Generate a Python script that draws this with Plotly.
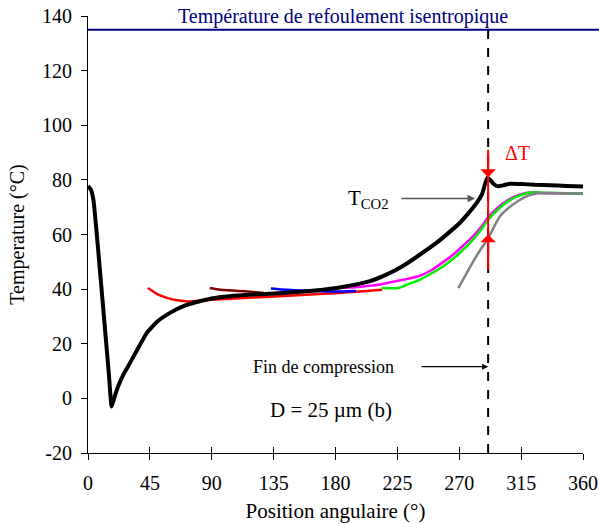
import plotly.graph_objects as go

# ---- data ----
black_x = [0, 2, 4, 6.3, 9, 12, 15, 17.2, 19, 22, 26, 30.5, 36, 42.7, 50, 59.6, 69, 79, 90, 103,
           120, 145, 165, 185, 205, 217, 229, 241, 253.6, 262, 270.5, 277, 282.7, 286.5, 290.4,
           292.5, 295, 298, 302, 307, 315, 325, 336, 348, 360]
black_y = [77.7, 76.5, 72.5, 60.6, 45, 27.5, 10, -3, 0, 4.5, 9, 12.9, 18, 23.9, 28, 31.3, 33.7,
           35.3, 36.6, 37.4, 38.0, 38.7, 39.5, 40.8, 42.9, 45.3, 48.5, 52.5, 57, 60.5, 64.3, 68,
           71.6, 74.7, 80.8, 80, 78.5, 77.7, 78.0, 78.6, 78.5, 78.2, 78.0, 77.8, 77.6]

red_x = [43.6, 50, 58, 65, 72.7, 85, 100, 120, 145.5, 165, 185, 200, 214]
red_y = [40.4, 38.3, 36.7, 35.9, 35.5, 35.9, 36.4, 36.9, 37.6, 38.1, 38.7, 39.2, 39.8]

maroon_x = [88.5, 95, 105, 114, 128]
maroon_y = [40.4, 39.9, 39.5, 39.2, 38.6]

blue_x = [133, 140, 150, 165, 180, 195]
blue_y = [40.2, 39.9, 39.6, 39.3, 39.1, 39.3]

magenta_x = [178, 190, 200, 210, 220, 230, 241.5, 250, 258, 266, 273, 280, 286, 291, 299, 306,
             314, 322, 330, 360]
magenta_y = [40.4, 40.6, 41, 41.5, 42.5, 43.5, 44.9, 47, 49.8, 52.8, 56, 59.3, 62.8, 66.3, 70.3,
             72.8, 74.6, 75.5, 75.2, 75]

green_x = [213.6, 225.7, 233, 241.5, 250, 258.4, 266, 273, 279, 285.1, 291.2, 299.6, 306, 314,
           322, 330, 360]
green_y = [40.4, 40.4, 41.8, 43.5, 45.8, 48.4, 51.3, 54.5, 57.6, 61.2, 65.5, 69.8, 72.3, 74.3,
           75.4, 75.3, 75]

gray_x = [269.3, 275, 280, 285.5, 291.2, 295.5, 299.6, 306, 312, 318, 326, 335, 360]
gray_y = [40.4, 45.5, 50, 54.5, 58.8, 63, 66.7, 69.8, 72, 73.8, 75, 75.2, 75]

isentropic_T = 135
end_compression = 291
dT_top, dT_bottom = 81, 60

x_ticks = [0, 45, 90, 135, 180, 225, 270, 315, 360]
y_ticks = [-20, 0, 20, 40, 60, 80, 100, 120, 140]

FONT = "Liberation Serif"

fig = go.Figure()

def add(x, y, color, width, smooth=0.6):
    fig.add_trace(go.Scatter(x=x, y=y, mode="lines",
                             line=dict(color=color, width=width, shape="spline", smoothing=smooth),
                             showlegend=False, hoverinfo="skip"))

add(red_x, red_y, "#ff0000", 2.5)
add(maroon_x, maroon_y, "#800000", 2.5)
add(blue_x, blue_y, "#0000ff", 2.5)
add(magenta_x, magenta_y, "#ff00ff", 2.5)
add(green_x, green_y, "#00ee00", 2.5)
add(gray_x, gray_y, "#808080", 2.5)
add(black_x, black_y, "#000000", 4, 0.4)

# dummy trace for inner ticks axis
fig.add_trace(go.Scatter(x=[0], y=[-20], xaxis="x2", mode="markers", marker=dict(opacity=0),
                         showlegend=False, hoverinfo="skip"))

# isentropic line
fig.add_shape(type="line", xref="paper", yref="y", x0=0, x1=1.04, y0=isentropic_T, y1=isentropic_T,
              line=dict(color="#000080", width=2))
# end of compression dashed line
fig.add_shape(type="line", xref="x", yref="y", x0=end_compression, x1=end_compression,
              y0=-20, y1=isentropic_T, line=dict(color="black", width=2, dash="dash"))
# red delta T line
fig.add_shape(type="line", xref="x", yref="y", x0=end_compression, x1=end_compression,
              y0=91, y1=47, line=dict(color="#ff0000", width=2))

ann = []
ann.append(dict(x=end_compression, y=dT_top, ax=end_compression, ay=90, xref="x", yref="y",
                axref="x", ayref="y", showarrow=True, arrowhead=1, arrowsize=1.3, arrowwidth=2,
                arrowcolor="#ff0000", text=""))
ann.append(dict(x=end_compression, y=dT_bottom, ax=end_compression, ay=48, xref="x", yref="y",
                axref="x", ayref="y", showarrow=True, arrowhead=1, arrowsize=1.3, arrowwidth=2,
                arrowcolor="#ff0000", text=""))
ann.append(dict(x=312, y=90, xref="x", yref="y", text="ΔT", showarrow=False,
                font=dict(family=FONT, size=20, color="#ff0000")))
# T_CO2 arrow
ann.append(dict(x=281.5, y=73.2, ax=226.9, ay=73.2, xref="x", yref="y", axref="x", ayref="y",
                showarrow=True, arrowhead=2, arrowsize=1, arrowwidth=1.5, arrowcolor="#555555",
                text=""))
ann.append(dict(x=204, y=73, xref="x", yref="y", text="T<sub>CO2</sub>", showarrow=False,
                font=dict(family=FONT, size=21, color="black")))
# Fin de compression
ann.append(dict(x=end_compression, y=11.6, ax=241.5, ay=11.6, xref="x", yref="y", axref="x",
                ayref="y", showarrow=True, arrowhead=2, arrowsize=1, arrowwidth=1.2,
                arrowcolor="black", text=""))
ann.append(dict(x=171.6, y=11.6, xref="x", yref="y", text="Fin de compression", showarrow=False,
                font=dict(family=FONT, size=18, color="black")))
ann.append(dict(x=176.7, y=-4.2, xref="x", yref="y", text="D = 25 µm (b)", showarrow=False,
                font=dict(family=FONT, size=21, color="black")))
ann.append(dict(x=185.5, y=1.0, xref="x", yref="paper", yanchor="middle",
                text="Température de refoulement isentropique",
                showarrow=False, font=dict(family=FONT, size=20, color="#000080")))

fig.update_layout(
    width=599, height=524,
    margin=dict(l=88, r=16, t=16, b=71, autoexpand=False),
    plot_bgcolor="white", paper_bgcolor="white",
    font=dict(family=FONT, size=20, color="black"),
    annotations=ann,
    xaxis=dict(range=[0, 360], tickvals=x_ticks, ticktext=[str(v) for v in x_ticks],
               showline=True, linecolor="black", linewidth=1, ticks="outside", ticklen=6,
               tickcolor="black", showgrid=False, zeroline=False, automargin=False,
               ticklabelstandoff=6,
               title=dict(text="Position angulaire (°)", font=dict(family=FONT, size=21), standoff=10),
               tickfont=dict(family=FONT, size=20)),
    xaxis2=dict(range=[0, 360], overlaying="x", anchor="y", side="bottom", tickvals=x_ticks,
                showticklabels=False, ticks="inside", ticklen=6, tickcolor="black",
                showgrid=False, zeroline=False, showline=False, automargin=False),
    yaxis=dict(range=[-20, 140], tickvals=y_ticks, ticktext=[str(v) for v in y_ticks],
               showline=True, linecolor="black", linewidth=1,
               ticks="outside", ticklen=6, tickcolor="black", showgrid=False, zeroline=False,
               automargin=False, ticklabelstandoff=5,
               title=dict(text="Temperature (°C)", font=dict(family=FONT, size=20), standoff=12),
               tickfont=dict(family=FONT, size=20)),
)

fig.write_html("out.html", config={"displayModeBar": False},
               post_script="document.body.style.margin='0';document.body.style.overflow='hidden';")
